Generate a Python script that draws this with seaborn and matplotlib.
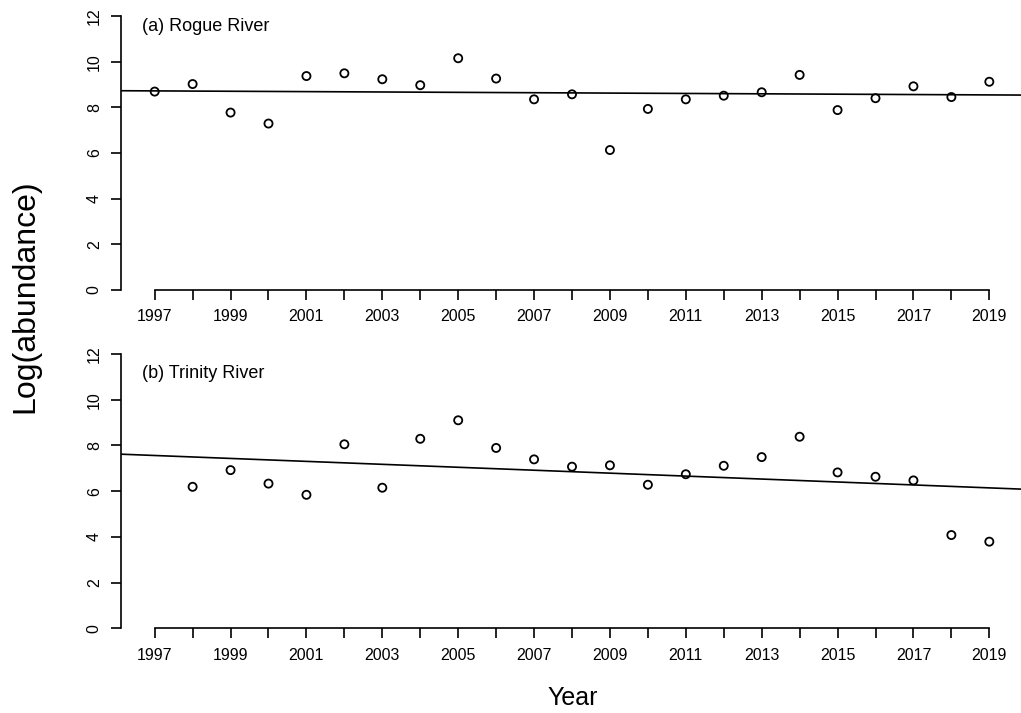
import matplotlib
matplotlib.use("Agg")
import matplotlib.pyplot as plt
import seaborn as sns
import pandas as pd

# ---- data ----
rogue_years = list(range(1997, 2020))
rogue_values = [8.69, 9.02, 7.77, 7.29, 9.37, 9.49, 9.23, 8.97, 10.15, 9.26,
                8.35, 8.57, 6.13, 7.93, 8.35, 8.51, 8.66, 9.42, 7.88, 8.40,
                8.92, 8.45, 9.12]
trinity_years = list(range(1998, 2020))
trinity_values = [6.19, 6.92, 6.33, 5.84, 8.05, 6.15, 8.29, 9.10, 7.89,
                  7.39, 7.07, 7.13, 6.28, 6.74, 7.11, 7.49, 8.38, 6.82, 6.63,
                  6.47, 4.08, 3.79]
# fitted trend lines: value at 1997 and slope per year
rogue_trend = (8.72, -0.0080)
trinity_trend = (7.56, -0.0644)

panel_titles = ["(a) Rogue River", "(b) Trinity River"]
year_ticks = list(range(1997, 2020))
year_labels = [str(y) if (y - 1997) % 2 == 0 else "" for y in year_ticks]
y_ticks = [0, 2, 4, 6, 8, 10, 12]
x_label = "Year"
y_label = "Log(abundance)"

sns.set_style("ticks")
plt.rcParams["font.family"] = ["Liberation Sans", "DejaVu Sans"]
plt.rcParams["text.color"] = "black"
plt.rcParams["xtick.color"] = "black"
plt.rcParams["ytick.color"] = "black"
plt.rcParams["axes.edgecolor"] = "black"

fig = plt.figure(figsize=(10.21, 7.13), dpi=100)
W, H = 1021, 713

def axes_rect(left_px, right_px, top_px, bottom_px):
    return [left_px / W, 1 - bottom_px / H, (right_px - left_px) / W, (bottom_px - top_px) / H]

ax_top = fig.add_axes(axes_rect(121.3, 1022.7, 16, 290))
ax_bot = fig.add_axes(axes_rect(121.3, 1022.7, 354, 628.3))

panels = [
    (ax_top, rogue_years, rogue_values, rogue_trend, panel_titles[0], 11.55),
    (ax_bot, trinity_years, trinity_values, trinity_trend, panel_titles[1], 11.15),
]

for ax, yrs, vals, trend, title, ty in panels:
    df = pd.DataFrame({"year": yrs, "value": vals})
    sns.scatterplot(data=df, x="year", y="value", ax=ax, marker="o", s=34,
                    facecolor="none", edgecolor="black", linewidth=1.3, zorder=3)
    ax.axline((1997, trend[0]), slope=trend[1], color="black", linewidth=1.2, zorder=2)
    ax.set_xlim(1996.12, 2019.88)
    ax.set_ylim(0, 12)
    ax.set_xticks(year_ticks)
    ax.set_xticklabels(year_labels)
    ax.set_yticks(y_ticks)
    ax.set_yticklabels([str(v) for v in y_ticks], rotation=90, va="center")
    ax.set_xlabel("")
    ax.set_ylabel("")
    sns.despine(ax=ax)
    ax.spines["left"].set_bounds(0, 12)
    ax.spines["bottom"].set_bounds(1997, 2019)
    for sp in ("left", "bottom"):
        ax.spines[sp].set_linewidth(1.2)
        ax.spines[sp].set_color("black")
    ax.tick_params(axis="both", length=7, width=1.2, labelsize=11.5,
                   color="black", labelcolor="black")
    ax.tick_params(axis="x", pad=7)
    ax.tick_params(axis="y", pad=7)
    ax.text(1996.67, ty, title, fontsize=13, va="center", ha="left", color="black")
    ax.patch.set_alpha(0)

fig.text(573 / W, 1 - 698 / H, x_label, fontsize=18, ha="center", va="center", color="black")
fig.text(25 / W, 1 - 296 / H, y_label, fontsize=23, ha="center", va="center",
         rotation=90, color="black")

fig.savefig("out.png", dpi=100, facecolor="white")
